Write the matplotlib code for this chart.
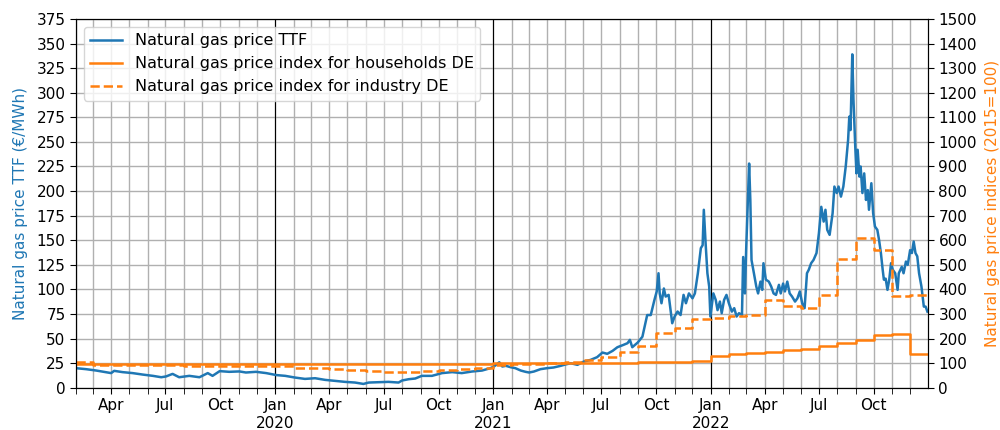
import matplotlib
matplotlib.use("Agg")
import matplotlib.pyplot as plt
import matplotlib.dates as mdates
import matplotlib.ticker as mticker
import pandas as pd
import numpy as np

# ---- TTF natural gas price (EUR/MWh) ----
ttf_dates = [
    "2019-02-01", "2019-02-18", "2019-03-07", "2019-03-23", "2019-04-01", "2019-04-06",
    "2019-04-20", "2019-05-07", "2019-05-24", "2019-06-10", "2019-06-24", "2019-07-02",
    "2019-07-13", "2019-07-24", "2019-08-10", "2019-08-27", "2019-09-10", "2019-09-18",
    "2019-09-30", "2019-10-16", "2019-11-02", "2019-11-13", "2019-11-30", "2019-12-17",
    "2020-01-03", "2020-01-18", "2020-02-03", "2020-02-20", "2020-03-08", "2020-03-25",
    "2020-04-11", "2020-04-27", "2020-05-14", "2020-05-28", "2020-06-06", "2020-06-22",
    "2020-07-09", "2020-07-26", "2020-08-01", "2020-08-12", "2020-08-23", "2020-09-03",
    "2020-09-20", "2020-10-07", "2020-10-24", "2020-11-09", "2020-11-26", "2020-12-13",
    "2020-12-27", "2021-01-02", "2021-01-11", "2021-01-16", "2021-01-22", "2021-01-30",
    "2021-02-07", "2021-02-16", "2021-02-24", "2021-03-02", "2021-03-10", "2021-03-21",
    "2021-04-01", "2021-04-12", "2021-04-24", "2021-05-02", "2021-05-11", "2021-05-22",
    "2021-06-02", "2021-06-13", "2021-06-24", "2021-07-03", "2021-07-11", "2021-07-20",
    "2021-07-28", "2021-08-06", "2021-08-14", "2021-08-18", "2021-08-22", "2021-08-31",
    "2021-09-08", "2021-09-16", "2021-09-22", "2021-09-28", "2021-10-02", "2021-10-05",
    "2021-10-07", "2021-10-10", "2021-10-14", "2021-10-17", "2021-10-22", "2021-10-28",
    "2021-11-01", "2021-11-06", "2021-11-11", "2021-11-16", "2021-11-20", "2021-11-25",
    "2021-12-01", "2021-12-05", "2021-12-10", "2021-12-15", "2021-12-18", "2021-12-20",
    "2021-12-23", "2021-12-26", "2021-12-29", "2021-12-31", "2022-01-05", "2022-01-09",
    "2022-01-12", "2022-01-16", "2022-01-19", "2022-01-23", "2022-01-27", "2022-01-31",
    "2022-02-05", "2022-02-09", "2022-02-13", "2022-02-17", "2022-02-22", "2022-02-24",
    "2022-02-27", "2022-03-01", "2022-03-03", "2022-03-06", "2022-03-08", "2022-03-10",
    "2022-03-14", "2022-03-18", "2022-03-21", "2022-03-25", "2022-03-28", "2022-03-30",
    "2022-04-03", "2022-04-08", "2022-04-12", "2022-04-16", "2022-04-20", "2022-04-25",
    "2022-04-28", "2022-05-02", "2022-05-05", "2022-05-09", "2022-05-13", "2022-05-17",
    "2022-05-22", "2022-05-26", "2022-05-30", "2022-06-03", "2022-06-07", "2022-06-11",
    "2022-06-14", "2022-06-18", "2022-06-22", "2022-06-27", "2022-07-01", "2022-07-05",
    "2022-07-09", "2022-07-12", "2022-07-15", "2022-07-19", "2022-07-24", "2022-07-27",
    "2022-07-31", "2022-08-03", "2022-08-07", "2022-08-11", "2022-08-15", "2022-08-19",
    "2022-08-21", "2022-08-23", "2022-08-26", "2022-08-28", "2022-08-31", "2022-09-02",
    "2022-09-04", "2022-09-07", "2022-09-09", "2022-09-12", "2022-09-15", "2022-09-18",
    "2022-09-21", "2022-09-23", "2022-09-27", "2022-09-30", "2022-10-03", "2022-10-07",
    "2022-10-10", "2022-10-13", "2022-10-16", "2022-10-18", "2022-10-21", "2022-10-24",
    "2022-10-27", "2022-10-30", "2022-11-02", "2022-11-06", "2022-11-10", "2022-11-12",
    "2022-11-17", "2022-11-20", "2022-11-24", "2022-11-27", "2022-12-01", "2022-12-04",
    "2022-12-07", "2022-12-10", "2022-12-13", "2022-12-16", "2022-12-20", "2022-12-24",
    "2022-12-27", "2022-12-30",
]
ttf_values = [
    20, 19, 17.6, 16, 15, 17.3,
    16, 15, 13.5, 12.2, 10.8, 11.6,
    14.2, 10.8, 12.2, 10.8, 15, 12.2,
    17, 16.3, 16.7, 15.6, 16.3, 15,
    13, 12.2, 10.5, 9.1, 9.8, 8.1,
    7.1, 6.1, 5.4, 4.0, 5.4, 5.7,
    6.1, 5.4, 7.5, 8.8, 9.5, 12.2,
    12.2, 15, 16, 15, 16.6, 17.6,
    20, 21.7, 26, 21.7, 22.4, 21,
    20, 17.6, 16.3, 15.6, 16.6, 19,
    20, 20.7, 22.4, 23.8, 25, 23.4,
    26.8, 28.4, 31.2, 35.9, 34.6, 37.6,
    41.3, 43.4, 45.4, 48.8, 41.3, 46,
    52, 74, 74, 89, 98, 116.5,
    96, 86, 101, 92.8, 94.5, 65.7,
    72.5, 77.6, 74, 94.5, 86, 96,
    91, 96, 116.5, 142, 145, 181,
    147, 116.5, 103, 72.5, 96, 89.4,
    79, 87.7, 75.9, 89.4, 94.5, 86,
    77.5, 81, 72.5, 75.9, 74, 133,
    96, 140, 174, 228, 191, 130,
    116.5, 103, 96, 108, 99.6, 126.7,
    110, 108, 103, 96, 94.5, 104.7,
    96, 106, 98, 108, 96, 92.8,
    87.7, 91, 98, 86, 81, 116.5,
    120, 126.7, 130, 137, 157, 184,
    169, 181, 160.6, 155.5, 177.5, 204.6,
    198, 204.6, 194.4, 204.6, 225, 252,
    275.7, 262, 339, 292.7, 245, 218,
    242, 214.7, 225, 198, 218, 191,
    201, 181, 208, 177.5, 164, 160.6,
    150, 137, 120, 110, 111, 99.6,
    110, 126.7, 120, 116.5, 99.6, 116.5,
    123, 116.5, 128.4, 125, 140, 137,
    148.7, 137, 133.7, 116.5, 103, 82.6,
    82.6, 77.5,
]

# ---- Monthly price indices (2015=100), Feb 2019 .. Dec 2022 ----
index_start = "2019-02-01"
households_index = [
    99, 99, 99, 99, 99, 99, 99, 99, 99, 99, 99,
    99, 99, 99, 99, 99, 99, 99, 99, 99, 99, 99, 99,
    100, 100, 100, 101, 101, 102, 103, 103, 104, 105, 106, 108,
    131, 136, 141, 147, 153, 160, 172, 183, 196, 213, 220, 136,
]
industry_index = [
    105, 94, 93, 92, 92, 91, 90, 89, 89, 88, 90,
    90, 82, 80, 76, 74, 68, 66, 66, 68, 72, 76, 82,
    92, 95, 97, 100, 106, 114, 127, 144, 170, 224, 243, 280,
    285, 291, 297, 358, 333, 326, 378, 523, 609, 561, 372, 378,
]
x_end = "2022-12-31"

labels = ["Natural gas price TTF",
          "Natural gas price index for households DE",
          "Natural gas price index for industry DE"]

blue = "#1f77b4"
orange = "#ff7f0e"

ttf_x = pd.to_datetime(ttf_dates)
idx_x = pd.date_range(index_start, periods=len(households_index), freq="MS")
idx_x_ext = idx_x.append(pd.DatetimeIndex([pd.Timestamp(x_end)]))
hh_ext = list(households_index) + [households_index[-1]]
ind_ext = list(industry_index) + [industry_index[-1]]

fig = plt.figure(figsize=(10, 4.3), dpi=100)
ax = fig.add_axes([0.076, 0.098, 0.852, 0.858])
ax2 = ax.twinx()

l1, = ax.plot(ttf_x, ttf_values, color=blue, lw=1.8, label=labels[0])
l2, = ax2.plot(idx_x_ext, hh_ext, color=orange, lw=1.8, drawstyle="steps-post", label=labels[1])
l3, = ax2.plot(idx_x_ext, ind_ext, color=orange, lw=1.8, ls="--", drawstyle="steps-post", label=labels[2])

ax.set_xlim(pd.Timestamp(index_start), pd.Timestamp(x_end))
ax.set_ylim(0, 375)
ax2.set_ylim(0, 1500)
ax.yaxis.set_major_locator(mticker.MultipleLocator(25))
ax2.yaxis.set_major_locator(mticker.MultipleLocator(100))

ax.xaxis.set_major_locator(mdates.MonthLocator(bymonth=[1, 4, 7, 10]))
ax.xaxis.set_minor_locator(mdates.MonthLocator())

def fmt(x, pos=None):
    d = mdates.num2date(x)
    if d.month == 1:
        return d.strftime("%b") + "\n" + d.strftime("%Y")
    return d.strftime("%b")

ax.xaxis.set_major_formatter(mticker.FuncFormatter(fmt))
ax.tick_params(axis="x", which="both", length=4, labelsize=11)
ax.tick_params(axis="y", length=4, labelsize=11)
ax2.tick_params(axis="y", length=4, labelsize=11)

ax.grid(True, which="both", color="#b0b0b0", lw=1.0)
ax.set_axisbelow(True)
for yr in [2020, 2021, 2022]:
    ax.axvline(pd.Timestamp(f"{yr}-01-01"), color="black", lw=0.8, zorder=1)

ax.set_ylabel("Natural gas price TTF (€/MWh)", color=blue, fontsize=11, labelpad=6)
ax2.set_ylabel("Natural gas price indices (2015=100)", color=orange, fontsize=11, labelpad=6)

ax2.legend([l1, l2, l3], labels, loc="upper left", fontsize=11.5)

fig.savefig("out.png", dpi=100)
